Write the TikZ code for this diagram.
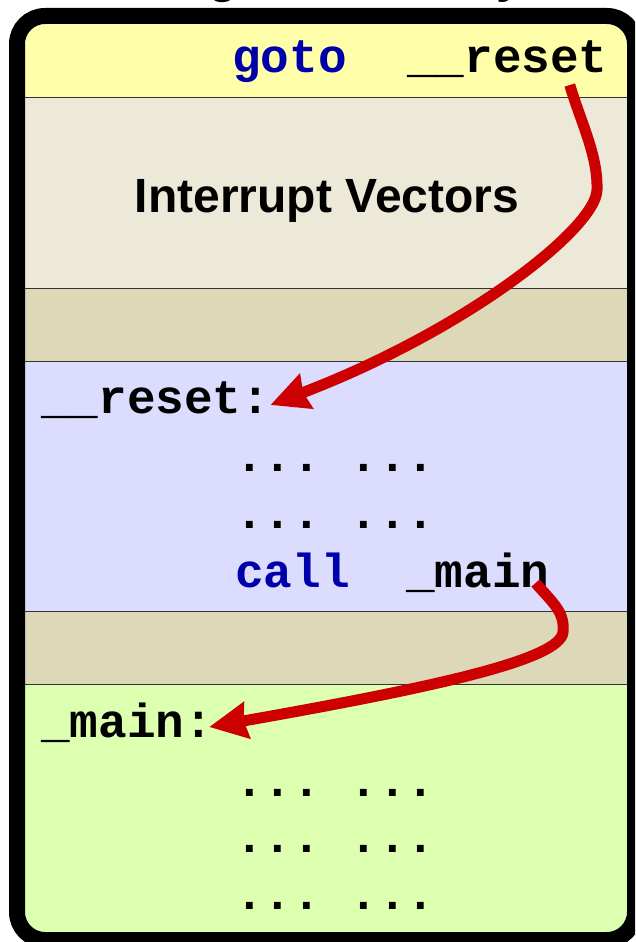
\documentclass[tikz,border=0pt]{standalone}
\usepackage{fontspec}
\setmainfont{Liberation Sans}
\newfontfamily\codefont{Liberation Mono}
\usetikzlibrary{arrows.meta,calc}

\definecolor{bandyellow}{RGB}{255,255,170}
\definecolor{bandbeige}{RGB}{236,233,216}
\definecolor{bandtan}{RGB}{221,216,184}
\definecolor{bandlav}{RGB}{220,220,255}
\definecolor{bandgreen}{RGB}{221,255,176}
\definecolor{kwblue}{RGB}{0,0,170}
\definecolor{arrowred}{RGB}{204,0,0}

\begin{document}
\begin{tikzpicture}[x=1pt,y=-1pt,
  code/.style={font=\codefont\bfseries\fontsize{47.7}{47.7}\selectfont\frenchspacing, inner sep=0pt, anchor=base west},
  kw/.style={code, text=kwblue},
  heading/.style={font=\bfseries\fontsize{48}{48}\selectfont, inner sep=0pt, anchor=base},
  sep/.style={draw=black!80, line width=1pt},
  jump/.style={draw=arrowred, line width=11pt, -{Stealth[length=38pt,width=36pt,inset=3pt]}}
]
\useasboundingbox (0,0) rectangle (635,942);
\clip (0,0) rectangle (635,942);

% title above the memory block
\node[heading] (title) at (326,-7) {Program Memory};

% coloured memory regions
\begin{scope}
  \clip[rounded corners=20pt] (25,24) rectangle (627,932);
  \fill[bandyellow] (25,24)  rectangle (627,97);
  \fill[bandbeige]  (25,97)  rectangle (627,288);
  \fill[bandtan]    (25,288) rectangle (627,361);
  \fill[bandlav]    (25,361) rectangle (627,611);
  \fill[bandtan]    (25,611) rectangle (627,684);
  \fill[bandgreen]  (25,684) rectangle (627,932);
  \draw[sep] (25,97)  -- (627,97);
  \draw[sep] (25,288) -- (627,288);
  \draw[sep] (25,361) -- (627,361);
  \draw[sep] (25,611) -- (627,611);
  \draw[sep] (25,684) -- (627,684);
\end{scope}

% outer frame
\draw[line width=16pt, rounded corners=28pt] (17,16) rectangle (635,940);

% reset vector
\node[kw]   (gotokw)  at (232,73) {goto};
\node[code] (gotoarg) at (407,73) {\_\_reset};

\node[heading] (vectors) at (327,212) {Interrupt Vectors};

% startup code
\node[code] (resetlbl) at (41,413) {\_\_reset:};
\node[code] (rdots1)   at (235,471) {... ...};
\node[code] (rdots2)   at (235,528) {... ...};
\node[kw]   (callkw)   at (235,587) {call};
\node[code] (callarg)  at (406,587) {\_main};

% main program
\node[code] (mainlbl) at (41,737) {\_main:};
\node[code] (mdots1)  at (235,796) {... ...};
\node[code] (mdots2)  at (235,852) {... ...};
\node[code] (mdots3)  at (235,909) {... ...};

% control flow
\coordinate (j1s) at ($(gotoarg.base east)+(-38,12)$);
\coordinate (j1e) at ($(resetlbl.base east)+(0,-8)$);
\draw[jump] (j1s) .. controls (581,123) and (598,155) .. (597,190)
                  .. controls (596,228) and (467,330) .. (j1e);

\coordinate (j2s) at ($(callarg.base east)+(-14,-4)$);
\coordinate (j2e) at ($(mainlbl.base east)+(-4,-10)$);
\draw[jump] (j2s) .. controls (553,603) and (565,612) .. (563,632)
                  .. controls (561,660) and (430,688) .. (j2e);
\end{tikzpicture}
\end{document}
